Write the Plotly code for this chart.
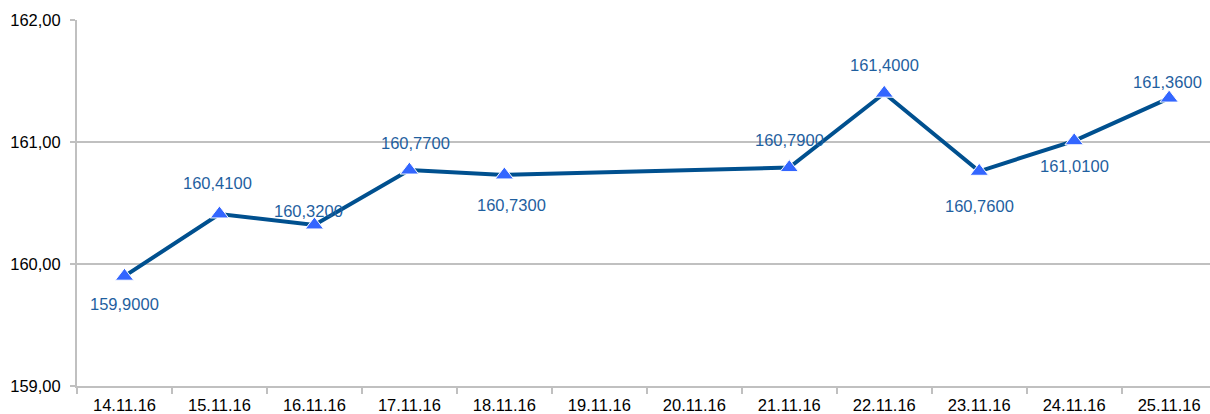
import plotly.graph_objects as go

categories = ["14.11.16", "15.11.16", "16.11.16", "17.11.16", "18.11.16", "19.11.16",
              "20.11.16", "21.11.16", "22.11.16", "23.11.16", "24.11.16", "25.11.16"]
values = [159.90, 160.41, 160.32, 160.77, 160.73, None, None, 160.79, 161.40, 160.76, 161.01, 161.36]
y_tickvals = [159, 160, 161, 162]
y_ticktext = ["159,00", "160,00", "161,00", "162,00"]
# label offsets (px) relative to each point: vertical and horizontal
label_yshift = [-28, 31, 14, 27, -30, 0, 0, 28, 28, -35, -25, 16]
label_xshift = [0, -2, -6, 6, 7, 0, 0, 0, 0, 0, 0, -2]

LINE = "#00508F"
MARK = "#3366FF"
TXT = "#1F5F9F"
GRID = "#C0C0C0"
FONT = "Arial, Liberation Sans, sans-serif"
FS = 16.5

fig = go.Figure()
fig.add_trace(go.Scatter(
    x=categories, y=values, mode="lines+markers", connectgaps=True,
    line=dict(color=LINE, width=4),
    marker=dict(symbol="triangle-up", size=16, color=MARK, line=dict(color="white", width=1)),
    hoverinfo="skip", showlegend=False, cliponaxis=False,
))

for c, v, dy, dx in zip(categories, values, label_yshift, label_xshift):
    if v is None:
        continue
    fig.add_annotation(
        x=c, y=v, text=f"{v:.4f}".replace(".", ","), showarrow=False,
        yshift=dy, xshift=dx, font=dict(family=FONT, size=FS, color=TXT),
    )

fig.update_layout(
    width=1210, height=414,
    margin=dict(l=77, r=0, t=20, b=28, autoexpand=False),
    paper_bgcolor="white", plot_bgcolor="white",
    font=dict(family=FONT, size=FS, color="black"),
    showlegend=False,
    xaxis=dict(
        type="category", categoryorder="array", categoryarray=categories,
        range=[-0.5, 11.43], showgrid=False, zeroline=False, automargin=False,
        showline=True, linecolor=GRID, linewidth=2,
        ticks="outside", tickson="boundaries", ticklen=6, tickcolor=GRID, tickwidth=2,
        ticklabelstandoff=3,
        tickfont=dict(family=FONT, size=FS, color="black"),
    ),
    yaxis=dict(
        range=[159, 162], tickvals=y_tickvals, ticktext=y_ticktext,
        showgrid=True, gridcolor=GRID, gridwidth=2, zeroline=False, automargin=False,
        showline=True, linecolor=GRID, linewidth=2,
        ticks="outside", ticklen=5, tickcolor=GRID, tickwidth=2,
        ticklabelstandoff=6,
        tickfont=dict(family=FONT, size=FS, color="black"),
    ),
)

fig.write_html("out.html", config={"displayModeBar": False},
               post_script="document.body.style.margin='0';document.body.style.overflow='hidden';")
